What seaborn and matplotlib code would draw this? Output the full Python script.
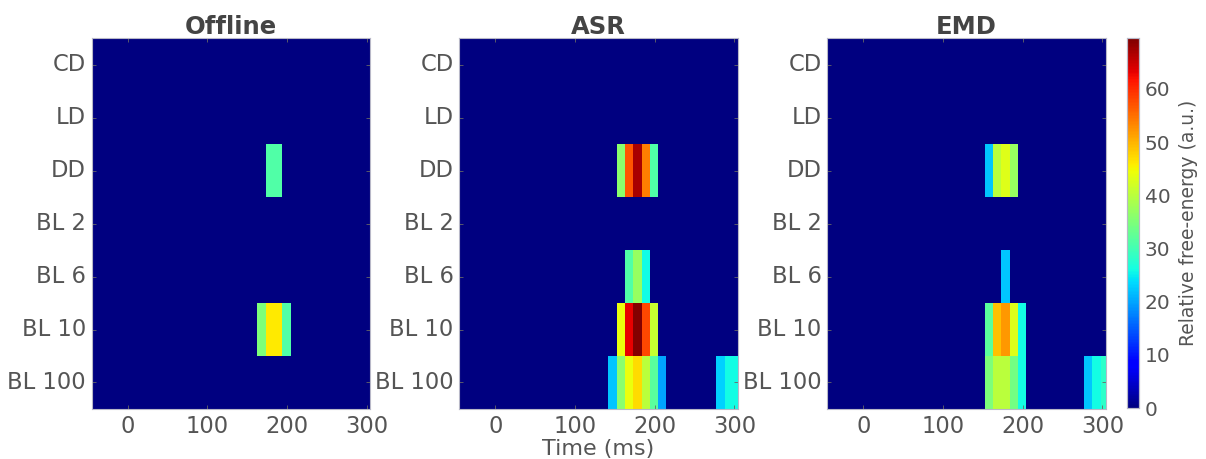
import numpy as np
import matplotlib
matplotlib.use("Agg")
import matplotlib.pyplot as plt
import seaborn as sns

# conditions (rows, top to bottom) and methods (panels)
conditions = ["CD", "LD", "DD", "BL 2", "BL 6", "BL 10", "BL 100"]
methods = ["Offline", "ASR", "EMD"]

# time bins: first bin centre (ms), bin width (ms), number of bins
t_first = -40.0
t_step = 10.4
n_bins = 34
time_ticks = [0, 100, 200, 300]

# non-zero cells per method: condition -> (first time bin, values)
offline_cells = {
    "DD": (21, [31, 31]),
    "BL 10": (20, [35, 46, 46, 31]),
}
asr_cells = {
    "DD": (19, [36, 57, 67, 54, 31]),
    "BL 6": (20, [31, 37, 26]),
    "BL 10": (19, [44, 63, 69, 58, 41]),
    "BL 100": (18, [22, 36, 44, 47, 40, 32, 20]),
}
asr_late = {"BL 100": (31, [23, 26, 26])}
emd_cells = {
    "DD": (19, [22, 40, 43, 37]),
    "BL 6": (21, [22]),
    "BL 10": (19, [32, 49, 52, 43, 26]),
    "BL 100": (19, [35, 40, 40, 34, 26]),
}
emd_late = {"BL 100": (31, [22, 26, 28])}

vmax = 69.5


def build(*cell_sets):
    m = np.zeros((len(conditions), n_bins))
    for cells in cell_sets:
        for cond, (start, vals) in cells.items():
            r = conditions.index(cond)
            m[r, start:start + len(vals)] = vals
    return m


data = {
    "Offline": build(offline_cells),
    "ASR": build(asr_cells, asr_late),
    "EMD": build(emd_cells, emd_late),
}

grey = "#555555"
fig = plt.figure(figsize=(12.06, 4.59), dpi=100)
lefts = [0.076, 0.3808, 0.6859]
bottom, height, width = 0.109, 0.8076, 0.2308
cax = fig.add_axes([0.9342, bottom + 0.002, 0.0104, height - 0.002])

# column coordinate of a time value (left edge of first bin = column 0)
def to_col(t):
    return (t - (t_first - t_step / 2)) / t_step

for i, name in enumerate(methods):
    ax = fig.add_axes([lefts[i], bottom, width, height])
    sns.heatmap(data[name], ax=ax, cmap="jet", vmin=0, vmax=vmax,
                cbar=(i == 2), cbar_ax=cax if i == 2 else None,
                xticklabels=False, yticklabels=conditions)
    ax.set_xlim(0, to_col(304))
    ax.set_xticks([to_col(t) for t in time_ticks])
    ax.set_xticklabels([str(t) for t in time_ticks])
    ax.set_yticklabels(conditions, rotation=0)
    for sp in ax.spines.values():
        sp.set_visible(True)
        sp.set_color("#b8b8c8")
        sp.set_linewidth(0.8)
    ax.tick_params(axis="both", direction="in", length=3, width=0.6,
                   color="#666666", labelcolor=grey, labelsize=16.3,
                   top=True, right=True, pad=4)
    ax.set_title(name, fontsize=17.5, fontweight="bold", color="#444444", pad=3)
    if name == "ASR":
        ax.set_xlabel("Time (ms)", fontsize=16, color=grey, labelpad=1)

cax.tick_params(labelsize=14.5, labelcolor=grey, length=0, pad=4)
cax.set_yticks([0, 10, 20, 30, 40, 50, 60])
cax.set_ylabel("Relative free-energy (a.u.)", fontsize=13.5, color=grey, labelpad=6)
for sp in cax.spines.values():
    sp.set_visible(True)
    sp.set_color("#b8b8c8")
    sp.set_linewidth(0.8)

fig.savefig("out.png", dpi=100)
